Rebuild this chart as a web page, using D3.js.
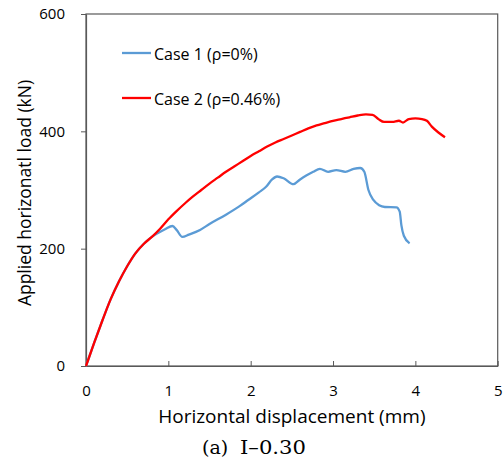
<!DOCTYPE html>
<html>
<head>
<meta charset="utf-8">
<script src="https://cdn.jsdelivr.net/npm/d3@7"></script>
<style>
  html, body { margin: 0; padding: 0; background: #fff; }
  svg { display: block; }
</style>
</head>
<body>
<svg id="chart" width="504" height="461"></svg>
<script>
// Load–displacement response of specimen I-0.30
const xTicks = [0, 1, 2, 3, 4, 5];
const yTicks = [0, 200, 400, 600];
const seriesNames = ["Case 1 (\u03C1=0%)", "Case 2 (\u03C1=0.46%)"];
const seriesColors = ["#5B9BD5", "#FF0000"];

// Case 1 (displacement mm, load kN)
const case1Disp = [0, 0.1, 0.2, 0.3, 0.4, 0.5, 0.6, 0.7, 0.8, 0.88, 0.96, 1.05, 1.1, 1.17, 1.25, 1.385, 1.5, 1.7, 1.87, 1.97, 2.1, 2.19, 2.26, 2.32, 2.4, 2.52, 2.6, 2.68, 2.76, 2.84, 2.94, 3.04, 3.15, 3.25, 3.33, 3.38, 3.43, 3.49, 3.56, 3.63, 3.77, 3.81, 3.83, 3.86, 3.93];
const case1Load = [0, 40, 78, 114, 144, 170, 192, 208, 220, 227, 233, 238.6, 232, 220, 224, 232, 242, 258, 273, 283, 296, 306, 318, 323, 320, 310, 318, 325, 331, 336, 331, 334, 331, 336, 337.5, 331, 300, 283, 274, 271, 270.5, 263, 240, 222, 209];

// Case 2 (displacement mm, load kN)
const case2Disp = [0, 0.1, 0.2, 0.3, 0.4, 0.5, 0.6, 0.7, 0.8, 0.9, 1.0, 1.1, 1.2, 1.3, 1.4, 1.5, 1.6, 1.7, 1.8, 1.9, 2.0, 2.1, 2.2, 2.3, 2.4, 2.5, 2.6, 2.7, 2.8, 2.9, 3.0, 3.1, 3.2, 3.3, 3.4, 3.48, 3.55, 3.62, 3.72, 3.8, 3.85, 3.92, 4.0, 4.08, 4.14, 4.2, 4.28, 4.36];
const case2Load = [0, 40, 78, 114, 144, 170, 192, 208, 220, 234, 250, 264, 277, 289, 300, 311, 321, 331, 340, 349, 358, 366, 374, 381, 387, 393, 399, 405, 410, 414, 418, 421, 424, 427, 429, 428, 421, 416, 416, 418, 415, 421, 422, 421, 418, 408, 398, 390];

const svg = d3.select("#chart");
const plotLeft = 86, plotRight = 497.7, plotTop = 14, plotBottom = 366;
const sansFont = "'Open Sans', 'Noto Sans', sans-serif";
const serifFont = "'DejaVu Serif', 'Liberation Serif', serif";

const x = d3.scaleLinear().domain([0, 5]).range([plotLeft, plotRight]);
const y = d3.scaleLinear().domain([0, 600]).range([plotBottom, plotTop]);

const axisColor = "#595959";

// Plot frame
svg.append("rect")
  .attr("x", plotLeft).attr("y", plotTop)
  .attr("width", plotRight - plotLeft).attr("height", plotBottom - plotTop)
  .attr("fill", "none").attr("stroke", axisColor).attr("stroke-width", 1.2);

// X axis: ticks point inward
const xAxis = svg.append("g")
  .attr("transform", `translate(0,${plotBottom})`)
  .call(d3.axisBottom(x).tickValues(xTicks).tickSizeInner(-5).tickSizeOuter(0).tickPadding(19.5).tickFormat(d3.format("d")));
xAxis.select(".domain").attr("stroke", axisColor).attr("stroke-width", 1.2);
xAxis.selectAll(".tick line").attr("stroke", axisColor);
xAxis.selectAll(".tick text").style("font-size", "15px").style("font-family", sansFont).attr("fill", "#000");

// Y axis: ticks point outward
const yAxis = svg.append("g")
  .attr("transform", `translate(${plotLeft},0)`)
  .call(d3.axisLeft(y).tickValues(yTicks).tickSizeInner(5).tickSizeOuter(0).tickPadding(16).tickFormat(d3.format("d")));
yAxis.select(".domain").attr("stroke", axisColor).attr("stroke-width", 1.2);
yAxis.selectAll(".tick line").attr("stroke", axisColor);
yAxis.selectAll(".tick text").style("font-size", "15px").style("font-family", sansFont).attr("fill", "#000");

// Curves
const line = d3.line()
  .x(d => x(d[0]))
  .y(d => y(d[1]))
  .curve(d3.curveMonotoneX);

const case1 = case1Disp.map((d, i) => [d, case1Load[i]]);
const case2 = case2Disp.map((d, i) => [d, case2Load[i]]);

svg.append("path").datum(case1)
  .attr("d", line).attr("fill", "none")
  .attr("stroke", seriesColors[0]).attr("stroke-width", 2.3)
  .attr("stroke-linejoin", "round");
svg.append("path").datum(case2)
  .attr("d", line).attr("fill", "none")
  .attr("stroke", seriesColors[1]).attr("stroke-width", 2.3)
  .attr("stroke-linejoin", "round");

// Legend
const legendY = [53, 98];
seriesNames.forEach((name, i) => {
  svg.append("line")
    .attr("x1", 122).attr("x2", 151)
    .attr("y1", legendY[i]).attr("y2", legendY[i])
    .attr("stroke", seriesColors[i]).attr("stroke-width", 2.3);
  svg.append("text")
    .attr("x", 154).attr("y", legendY[i] + 6.5)
    .style("font-family", sansFont).style("font-size", "16px")
    .attr("fill", "#000")
    .text(name);
});

// Axis titles
svg.append("text")
  .attr("x", (plotLeft + plotRight) / 2).attr("y", 423)
  .attr("text-anchor", "middle")
  .style("font-family", sansFont).style("font-size", "19px")
  .attr("fill", "#000")
  .text("Horizontal displacement (mm)");

svg.append("text")
  .attr("transform", `translate(31,193) rotate(-90)`)
  .attr("text-anchor", "middle")
  .style("font-family", sansFont).style("font-size", "17.5px")
  .attr("fill", "#000")
  .text("Applied horizonatl load (kN)");

// Caption
svg.append("text")
  .attr("x", 202).attr("y", 454)
  .style("font-family", serifFont).style("font-size", "19px")
  .attr("fill", "#000")
  .text("(a)");
svg.append("text")
  .attr("x", 240).attr("y", 454)
  .style("font-family", serifFont).style("font-size", "19px")
  .attr("fill", "#000")
  .attr("textLength", 66)
  .attr("lengthAdjust", "spacingAndGlyphs")
  .text("I\u20130.30");
</script>
</body>
</html>
